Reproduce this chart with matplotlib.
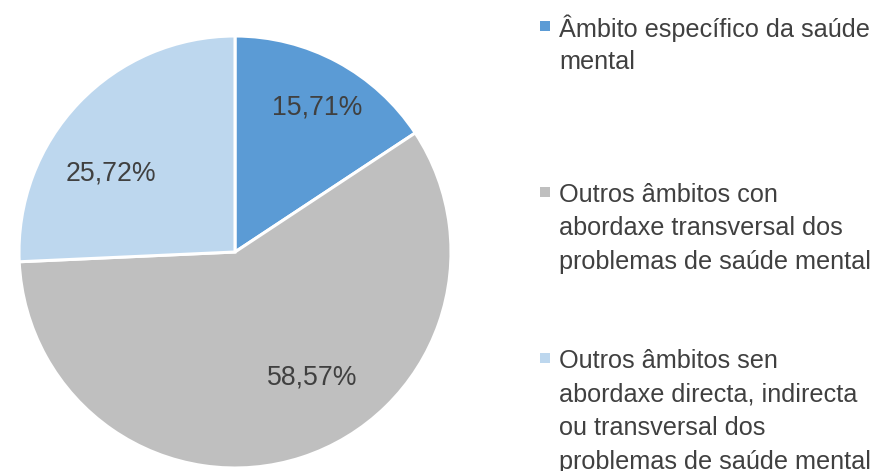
import matplotlib
matplotlib.use("Agg")
import matplotlib.pyplot as plt

categories = [
    "Âmbito específico da saúde\nmental",
    "Outros âmbitos con\nabordaxe transversal dos\nproblemas de saúde mental",
    "Outros âmbitos sen\nabordaxe directa, indirecta\nou transversal dos\nproblemas de saúde mental",
]
values = [15.71, 58.57, 25.72]
colors = ["#5B9BD5", "#BFBFBF", "#BDD7EE"]
text_color = "#404040"

plt.rcParams["font.family"] = ["Liberation Sans", "DejaVu Sans"]

W, H = 881, 471
fig = plt.figure(figsize=(W / 100, H / 100), dpi=100)

cx, cy, R = 235, 252, 216
ax = fig.add_axes([(cx - R) / W, (H - cy - R) / H, 2 * R / W, 2 * R / H])
wedges, _ = ax.pie(values, colors=colors, startangle=90, counterclock=False,
                   radius=1.0, wedgeprops=dict(edgecolor="white", linewidth=2.2),
                   center=(0, 0), frame=False)
ax.set_xlim(-1, 1)
ax.set_ylim(-1, 1)
ax.set_aspect("equal")
ax.axis("off")

# label positions in pixel coordinates (Excel best-fit placement)
label_px = [(317, 107), (312, 377), (111, 174)]
for v, (px, py) in zip(values, label_px):
    s = f"{v:.2f}".replace(".", ",") + "%"
    ax.text((px - cx) / R, (cy - py) / R, s, ha="center", va="center",
            fontsize=19.2, color=text_color)

# legend
first_line_y = [26, 192, 358]
line_step = 33.7
for cat, col, y0 in zip(categories, colors, first_line_y):
    lines = cat.split("\n")
    fig.patches.append(plt.Rectangle(((540) / W, (H - y0 - 5) / H), 10 / W, 10 / H,
                                     transform=fig.transFigure, facecolor=col,
                                     edgecolor="none"))
    for i, ln in enumerate(lines):
        fig.text(559 / W, (H - (y0 + i * line_step)) / H, ln, ha="left",
                 va="center_baseline", fontsize=18.2, color=text_color)

fig.savefig("out.png", dpi=100)
